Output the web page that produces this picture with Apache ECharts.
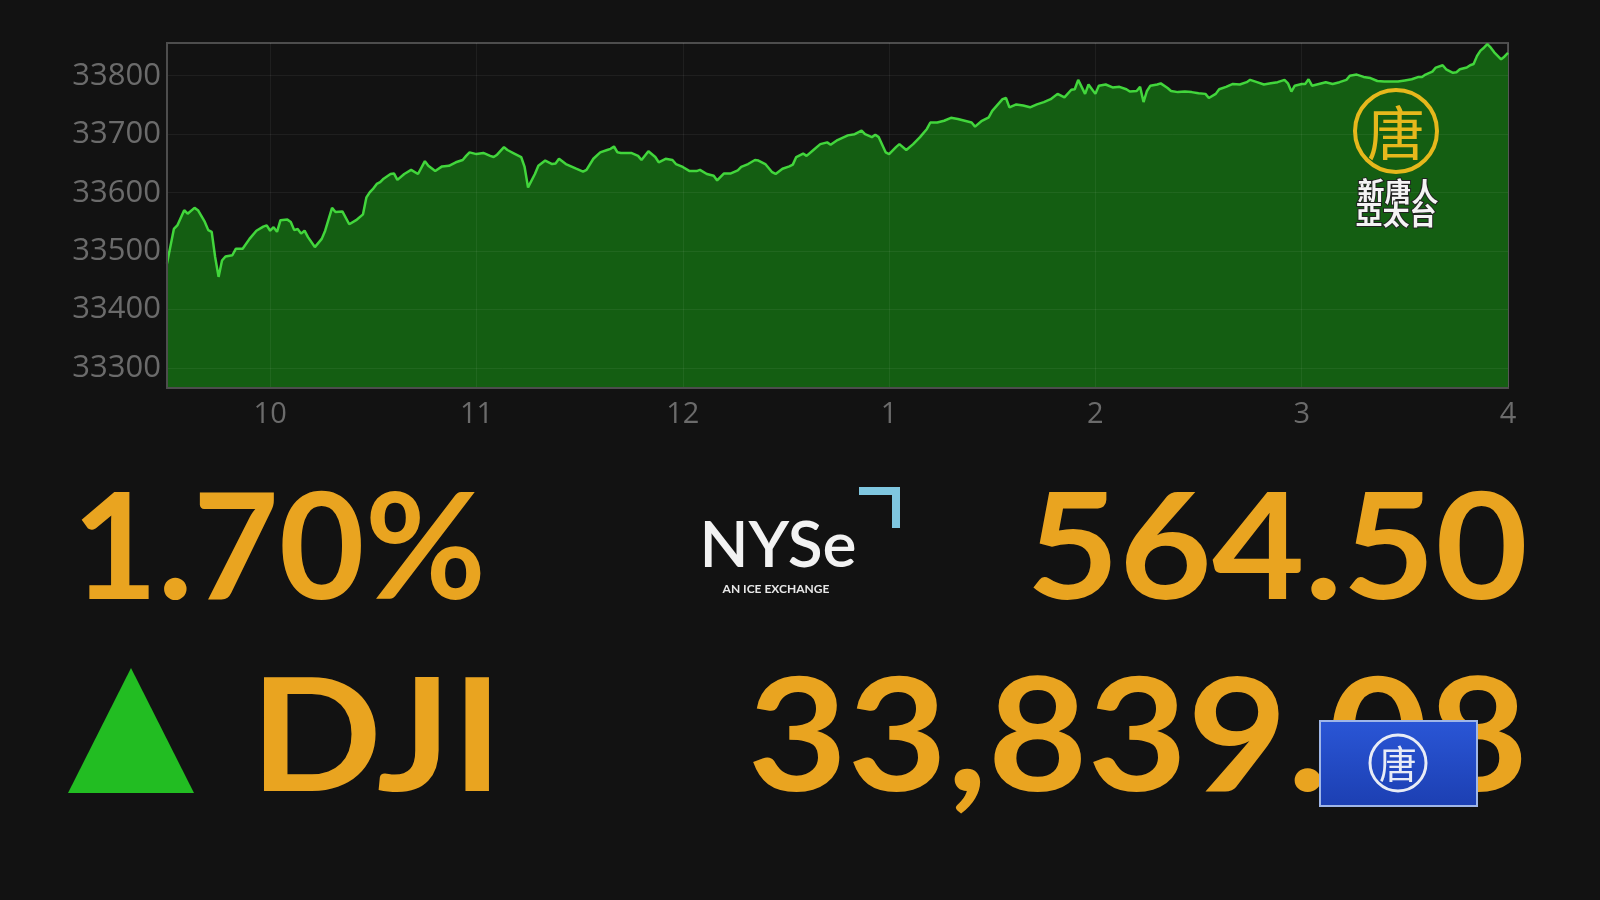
<!DOCTYPE html>
<html>
<head>
<meta charset="utf-8">
<script src="https://cdn.jsdelivr.net/npm/echarts@6/dist/echarts.min.js"></script>
<style>
html,body{margin:0;padding:0;background:#121212;}
#chart{width:1600px;height:900px;}
</style>
</head>
<body>
<div id="chart"></div>
<script>
// minutes after 9:30 open
const times = [0,2,3,5,6,8,9,11,12,13,14,15,16,17,19,20,22,24,26,28,29,30,31,32,33,35,36,37,38,39,40,41,43,45,46,48,49,51,53,55,57,58,59,60,61,62,63,65,66,67,69,71,73,75,76,78,80,82,84,86,87,88,90,92,94,95,96,98,99,101,103,104,105,107,108,110,112,113,114,116,119,121,122,124,126,128,129,130,131,132,135,137,138,140,142,143,145,147,148,150,152,154,155,157,159,160,162,164,166,167,169,171,172,174,176,177,179,181,182,183,185,186,188,190,192,193,195,198,200,202,203,205,206,207,209,210,212,213,215,217,219,221,222,224,226,228,230,232,234,235,237,239,240,243,244,245,247,249,251,253,255,257,259,260,261,263,264,265,266,267,268,270,271,273,275,277,279,280,282,283,284,285,286,288,289,291,292,294,296,298,300,302,303,305,306,308,310,312,314,315,317,319,321,323,325,326,327,328,330,331,332,333,335,337,339,341,343,344,346,348,350,352,354,356,358,360,362,364,365,366,368,369,371,372,374,375,376,378,379,380,381,382,383,384,385,386,388,389,390];
const values = [33479,33538,33544,33570,33564,33574,33570,33550,33536,33533,33490,33456,33484,33491,33493,33504,33504,33521,33535,33542,33544,33535,33541,33533,33553,33554,33550,33536,33538,33530,33535,33524,33507,33521,33535,33574,33567,33568,33546,33553,33563,33592,33601,33607,33615,33618,33624,33632,33633,33622,33632,33639,33632,33654,33646,33637,33645,33646,33652,33656,33663,33669,33666,33668,33663,33661,33665,33678,33673,33667,33661,33644,33609,33632,33646,33655,33649,33650,33658,33649,33641,33636,33639,33658,33669,33673,33675,33679,33669,33668,33668,33663,33656,33671,33661,33652,33658,33656,33649,33644,33637,33637,33639,33632,33629,33621,33633,33633,33638,33644,33649,33656,33655,33649,33635,33632,33641,33645,33648,33661,33667,33663,33673,33683,33686,33682,33690,33698,33700,33706,33700,33695,33699,33695,33669,33666,33678,33683,33673,33683,33695,33709,33720,33720,33723,33728,33726,33723,33720,33713,33723,33729,33740,33760,33762,33746,33751,33749,33746,33751,33755,33760,33769,33766,33763,33776,33777,33793,33781,33769,33785,33769,33783,33785,33780,33781,33777,33773,33774,33781,33755,33774,33783,33785,33787,33779,33774,33772,33773,33772,33770,33769,33762,33769,33777,33781,33786,33785,33789,33793,33789,33785,33787,33789,33793,33787,33773,33783,33786,33786,33794,33783,33786,33789,33786,33789,33793,33800,33802,33798,33796,33791,33790,33790,33790,33792,33794,33798,33798,33802,33807,33814,33818,33811,33805,33806,33811,33814,33818,33820,33834,33843,33848,33854,33848,33840,33828,33833,33839];
const xTickValues = [30,90,150,210,270,330,390];
const xTickLabels = ['10','11','12','1','2','3','4'];
const yTickValues = [33300,33400,33500,33600,33700,33800];
const pctChange = '1.70%';
const pointChange = '564.50';
const indexName = 'DJI';
const lastValue = '33,839.08';

const chart = echarts.init(document.getElementById('chart'), null, {renderer:'canvas'});
const gridLine = 'rgba(255,255,255,0.06)';
const labelColor = '#6b6b6b';
const numFont = 'Lato, "Open Sans", sans-serif';
const orange = '#e9a420';

function bigText(str, x, y, size, align, sx) {
  return {type:'text', z:10, x: x, y: y, scaleX: sx, scaleY: 1,
    style:{text: str, x: 0, y: 0, font: 'bold ' + size + 'px ' + numFont, fill: orange, textAlign: align, textVerticalAlign: 'middle'}};
}

chart.setOption({
  backgroundColor: '#121212',
  animation: false,
  grid: {left: 167, right: 92, top: 43, bottom: 512, show: true, borderColor: '#4d4d4d', borderWidth: 2, backgroundColor: 'transparent'},
  xAxis: {
    type: 'value', min: 0, max: 390, z: 5,
    axisLine: {show: true, lineStyle: {color: '#4d4d4d', width: 2}},
    axisTick: {show: false, customValues: xTickValues},
    splitLine: {show: true, lineStyle: {color: gridLine, width: 1}},
    axisLabel: {
      customValues: xTickValues, margin: 12, color: labelColor, fontSize: 29,
      fontFamily: '"Open Sans", sans-serif',
      formatter: v => xTickLabels[xTickValues.indexOf(v)]
    }
  },
  yAxis: {
    type: 'value', min: 33266, max: 33856, z: 5,
    axisLine: {show: true, lineStyle: {color: '#4d4d4d', width: 2}},
    axisTick: {show: false, customValues: yTickValues},
    splitLine: {show: true, lineStyle: {color: gridLine, width: 1}},
    axisLabel: {customValues: yTickValues, margin: 6, color: labelColor, fontSize: 31, fontFamily: '"Open Sans", sans-serif', formatter: v => String(v)}
  },
  series: [{
    type: 'line',
    data: times.map((t, i) => [t, values[i]]),
    showSymbol: false,
    lineStyle: {color: '#42d63c', width: 2.5},
    areaStyle: {color: '#145e12', opacity: 1},
    z: 2
  }],
  graphic: [
    bigText(pctChange, 72, 551, 148, 'left', 1.0),
    bigText(pointChange, 1528, 551, 148, 'right', 1.08),
    bigText(indexName, 250, 740, 158, 'left', 1.1),
    bigText(lastValue, 1528, 740, 158, 'right', 1.09),
    {type:'polygon', z:10, shape:{points:[[131,668],[68,793],[194,793]]}, style:{fill:'#22bd22'}},
    // NYSE logo
    {type:'text', z:10, style:{text:'NYSe', x:778, y:546, font:'600 64px Lato, sans-serif', fill:'#f2f2f2', textAlign:'center', textVerticalAlign:'middle'}},
    {type:'text', z:10, style:{text:'AN ICE EXCHANGE', x:776, y:589, font:'bold 12px Lato, sans-serif', fill:'#e8e8e8', textAlign:'center', textVerticalAlign:'middle'}},
    {type:'polyline', z:10, shape:{points:[[859,491],[896,491],[896,528]]}, style:{stroke:'#7fc6df', lineWidth:8, fill:null}},
    // channel watermark
    {type:'circle', z:12, shape:{cx:1396, cy:131, r:41}, style:{stroke:'#e6b81c', lineWidth:4, fill:null}},
    {type:'text', z:12, style:{text:'唐', x:1396, y:133, font:'normal 58px "Noto Sans CJK TC", sans-serif', fill:'#e6b81c', textAlign:'center', textVerticalAlign:'middle'}},
    {type:'text', z:12, style:{text:'新唐人', x:1398, y:192, font:'bold 27px "Noto Sans CJK TC", sans-serif', fill:'#f4f4f4', stroke:'#222', lineWidth:2, textAlign:'center', textVerticalAlign:'middle'}},
    {type:'text', z:12, style:{text:'亞太台', x:1396, y:215, font:'bold 27px "Noto Sans CJK TC", sans-serif', fill:'#f4f4f4', stroke:'#222', lineWidth:2, textAlign:'center', textVerticalAlign:'middle'}},
    {type:'rect', z:12, shape:{x:1320, y:721, width:157, height:85}, style:{fill:new echarts.graphic.LinearGradient(0,0,0,1,[{offset:0,color:'#2a56d6'},{offset:1,color:'#1c3fb2'}]), stroke:'#9fb6e8', lineWidth:2}},
    {type:'circle', z:13, shape:{cx:1398, cy:763, r:28}, style:{stroke:'#e8ecf6', lineWidth:3, fill:null}},
    {type:'text', z:13, style:{text:'唐', x:1398, y:764, font:'normal 38px "Noto Sans CJK TC", sans-serif', fill:'#e8ecf6', textAlign:'center', textVerticalAlign:'middle'}}
  ]
});
</script>
</body>
</html>
